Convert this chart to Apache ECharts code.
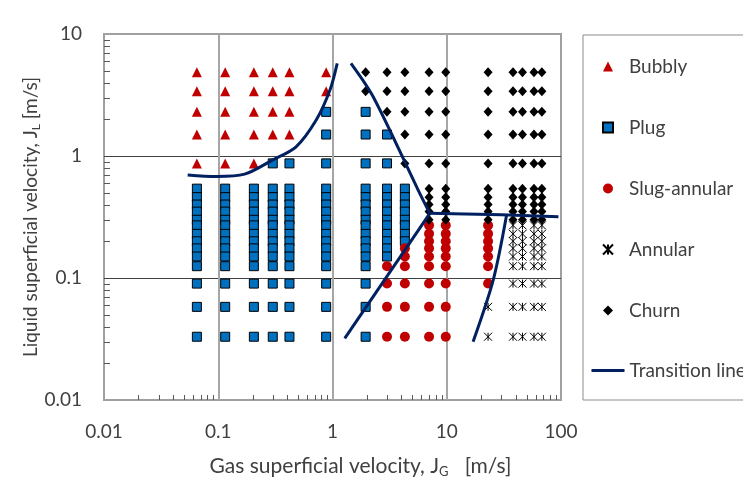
<!DOCTYPE html>
<html>
<head>
<meta charset="utf-8">
<title>Flow regime map</title>
<script src="https://cdn.jsdelivr.net/npm/echarts@6/dist/echarts.min.js"></script>
<style>
  html, body { margin: 0; padding: 0; background: #fff; }
  #chart { width: 743px; height: 485px; }
</style>
</head>
<body>
<div id="chart"></div>
<script>
// gas superficial velocity of each measured column [m/s]
var jgValues = [0.065, 0.115, 0.205, 0.3, 0.42, 0.88, 1.95, 3.0, 4.3, 7.0, 9.8, 23, 38, 46, 58, 68];
// liquid superficial velocity of each measured row, top to bottom [m/s]
var jlValues = [4.85, 3.4, 2.3, 1.5, 0.87, 0.54, 0.46, 0.4, 0.35, 0.3, 0.27, 0.23, 0.2, 0.175, 0.15, 0.125, 0.09, 0.058, 0.033];
// observed regime for every row, one letter per column
// B bubbly, P plug, S slug-annular, A annular, C churn
var regimeRows = [
  'BBBBBBCCCCCCCCCC',
  'BBBBBBCCCCCCCCCC',
  'BBBBBPPCCCCCCCCC',
  'BBBBBPPPCCCCCCCC',
  'BBBPPPPPCCCCCCCC',
  'PPPPPPPPPCCCCCCC',
  'PPPPPPPPPCCCCCCC',
  'PPPPPPPPPCCCCCCC',
  'PPPPPPPPPCCCCCCC',
  'PPPPPPPPPCCCCCCC',
  'PPPPPPPPPSSSAAAA',
  'PPPPPPPPPSSSAAAA',
  'PPPPPPPPPSSSAAAA',
  'PPPPPPPPSSSSAAAA',
  'PPPPPPPPSSSSAAAA',
  'PPPPPPPSSSSSAAAA',
  'PPPPPPPSSSSSAAAA',
  'PPPPPPPSSSSAAAAA',
  'PPPPPPPSSSSAAAAA'
];

// transition lines, [jG, jL]
var bubblyPlugLine = [[0.054, 0.70], [0.096, 0.68], [0.17, 0.71], [0.30, 0.93], [0.48, 1.19], [0.72, 1.97], [0.95, 3.47], [1.10, 5.75]];
var plugChurnLine = [[1.45, 5.75], [2.27, 3.06], [5.62, 0.526], [7.11, 0.339]];
var churnLowerLine = [[7.11, 0.339], [30, 0.33], [95, 0.318]];
var plugSlugLine = [[1.28, 0.032], [7.11, 0.339]];
var slugAnnularLine = [[17.0, 0.030], [25.5, 0.096], [33.4, 0.328]];

// axis ticks (decades)
var xTicks = [0.01, 0.1, 1, 10, 100];
var yTicks = [0.01, 0.1, 1, 10];

// minor ticks at 2..9 of each decade
function minorTicks(ticks) {
  var out = [];
  for (var i = 0; i < ticks.length - 1; i++) {
    for (var m = 2; m <= 9; m++) out.push(+(ticks[i] * m).toPrecision(3));
  }
  return out;
}

function pointsFor(code) {
  var pts = [];
  regimeRows.forEach(function (row, r) {
    for (var c = 0; c < row.length; c++) {
      if (row[c] === code) pts.push([jgValues[c], jlValues[r]]);
    }
  });
  return pts;
}

var txt = '#404040';
var font = 'Lato';

var chart = echarts.init(document.getElementById('chart'));

var lineStyle = { color: '#002060', width: 3 };
function transition(data, smooth) {
  return {
    name: 'Transition line', type: 'line', data: data, symbol: 'none',
    smooth: smooth ? 0.3 : false, lineStyle: lineStyle, itemStyle: { color: '#002060' },
    z: 5, silent: true
  };
}

// short inside tick marks along the bottom (dx=0) or left (dy=0) edge, placed by the axes
function minorTickSeries(data, dx, dy) {
  return {
    type: 'custom', name: 'minor ticks', silent: true, z: 3,
    data: data,
    renderItem: function (params, api) {
      var p = api.coord([api.value(0), api.value(1)]);
      var x = dx ? p[0] : Math.round(p[0]) + 0.5;
      var y = dy ? p[1] : Math.round(p[1]) + 0.5;
      return {
        type: 'line',
        shape: { x1: x, y1: y, x2: x + dx, y2: y + dy },
        style: { stroke: '#595959', lineWidth: 1 }
      };
    }
  };
}

var legendText = { fontFamily: font, fontSize: 19, color: txt };

chart.setOption({
  animation: false,
  backgroundColor: '#fff',
  grid: {
    left: 104, right: 182, top: 34, bottom: 85,
    show: true, borderColor: '#a0a0a0', borderWidth: 2
  },
  legend: [{
    // marker legend, also draws the box
    orient: 'vertical',
    left: 583, top: 35,
    padding: [22, 40, 80, 19],
    itemGap: 42,
    itemWidth: 10, itemHeight: 10,
    borderColor: '#8c8c8c', borderWidth: 1,
    textStyle: Object.assign({ padding: [0, 0, 0, 11] }, legendText),
    data: ['Bubbly', 'Plug', 'Slug-annular', 'Annular', 'Churn']
  }, {
    orient: 'vertical',
    left: 590, top: 361,
    padding: 0,
    itemWidth: 33, itemHeight: 10,
    textStyle: legendText,
    data: [{
      name: 'Transition line',
      itemStyle: { color: 'rgba(0,0,0,0)', borderColor: 'rgba(0,0,0,0)' },
      lineStyle: { width: 3 }
    }]
  }],
  xAxis: {
    type: 'log', logBase: 10,
    min: xTicks[0], max: xTicks[xTicks.length - 1],
    position: 'bottom',
    axisLine: { show: false },
    axisTick: { show: false },
    axisLabel: { fontFamily: font, fontSize: 19, color: txt, margin: 22 },
    splitLine: { show: true, showMinLine: false, showMaxLine: false, lineStyle: { color: '#a6a6a6', width: 2 } },
    name: '{t|Gas superficial velocity, J}{s|G}{t|   [m/s]}',
    nameLocation: 'middle', nameGap: 54, nameMoveOverlap: false,
    nameTextStyle: {
      padding: [0, 0, 0, 56],
      rich: {
        t: { fontFamily: font, fontSize: 21, color: txt, lineHeight: 24 },
        s: { fontFamily: font, fontSize: 13, color: txt, lineHeight: 13, verticalAlign: 'bottom' }
      }
    }
  },
  yAxis: {
    type: 'log', logBase: 10,
    min: yTicks[0], max: yTicks[yTicks.length - 1],
    position: 'left',
    axisLine: { show: false },
    axisTick: { show: false },
    axisLabel: { fontFamily: font, fontSize: 19, color: txt, margin: 22 },
    splitLine: { show: true, showMinLine: false, showMaxLine: false, lineStyle: { color: '#404040', width: 1 } },
    name: '{t|Liquid superficial velocity, J}{s|L}{t| [m/s]}',
    nameLocation: 'middle', nameGap: 62, nameMoveOverlap: false,
    nameTextStyle: {
      rich: {
        t: { fontFamily: font, fontSize: 19, color: txt, lineHeight: 22 },
        s: { fontFamily: font, fontSize: 12, color: txt, lineHeight: 12, verticalAlign: 'bottom' }
      }
    }
  },
  series: [
    minorTickSeries(minorTicks(xTicks).map(function (v) { return [v, yTicks[0]]; }), 0, -5),
    minorTickSeries(minorTicks(yTicks).map(function (v) { return [xTicks[0], v]; }), 6, 0),
    {
      name: 'Bubbly', type: 'scatter', data: pointsFor('B'),
      symbol: 'triangle', symbolSize: 10,
      itemStyle: { color: '#c00000', opacity: 1 }
    },
    {
      name: 'Plug', type: 'scatter', data: pointsFor('P'),
      symbol: 'rect', symbolSize: 9,
      itemStyle: { color: '#0070c0', borderColor: '#000', borderWidth: 1, opacity: 1 }
    },
    {
      name: 'Slug-annular', type: 'scatter', data: pointsFor('S'),
      symbol: 'circle', symbolSize: 10,
      itemStyle: { color: '#c00000', opacity: 1 }
    },
    {
      name: 'Annular', type: 'scatter', data: pointsFor('A'),
      symbol: 'path://M0,0L10,10M10,0L0,10M5,0L5,10', symbolSize: 8,
      itemStyle: { color: 'rgba(0,0,0,0)', borderColor: '#000', borderWidth: 1, opacity: 1 }
    },
    {
      name: 'Churn', type: 'scatter', data: pointsFor('C'),
      symbol: 'diamond', symbolSize: [9, 10],
      itemStyle: { color: '#000', opacity: 1 }
    },
    transition(bubblyPlugLine, true),
    transition(plugChurnLine, true),
    transition(churnLowerLine, false),
    transition(plugSlugLine, false),
    transition(slugAnnularLine, true)
  ]
});
</script>
</body>
</html>
